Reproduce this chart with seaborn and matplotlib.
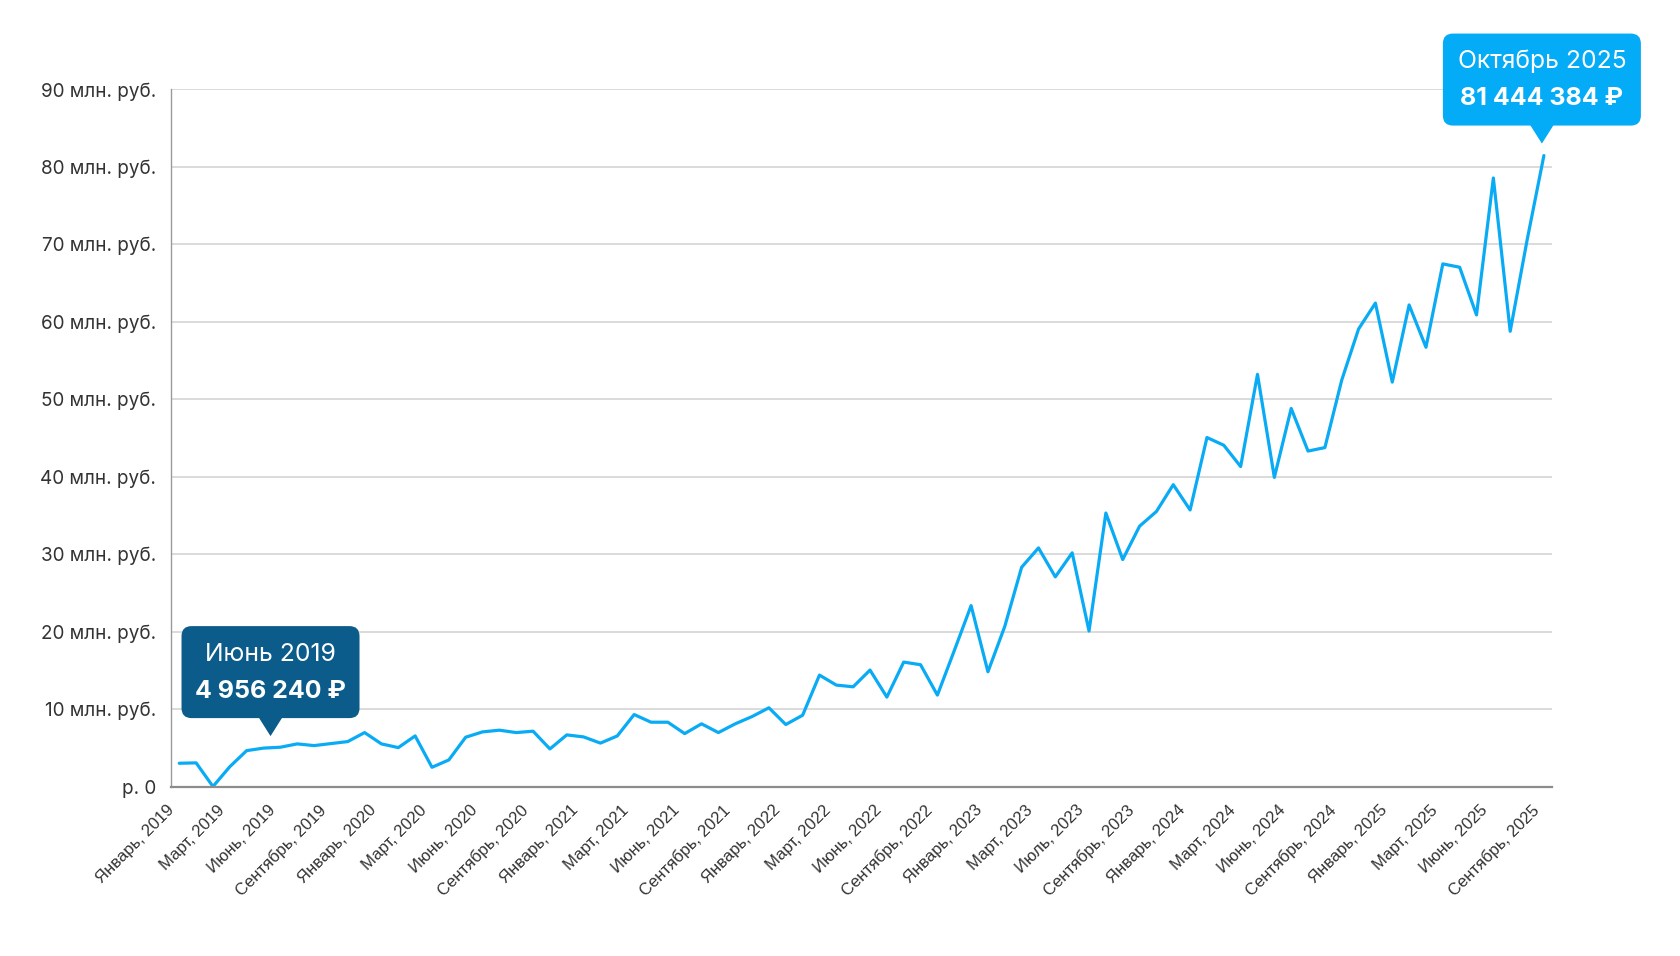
import matplotlib
matplotlib.use("Agg")
import matplotlib.pyplot as plt
import matplotlib.transforms as mtransforms
from matplotlib.patches import FancyBboxPatch, Polygon
from matplotlib.ticker import FuncFormatter
import seaborn as sns
import pandas as pd


# ── Data (млн. руб., помесячно с января 2019 по октябрь 2025) ─────────────
values = [
    3.00, 3.05, 0.00, 2.56, 4.63, 4.95624, 5.07, 5.50, 5.28, 5.54, 5.80, 6.96,
    5.50, 5.02, 6.53, 2.48, 3.43, 6.36, 7.05, 7.27, 6.96, 7.14, 4.85, 6.66,
    6.40, 5.60, 6.53, 9.29, 8.30, 8.30, 6.83, 8.09, 6.96, 8.09, 9.03, 10.16,
    8.00, 9.20, 14.38, 13.09, 12.87, 15.03, 11.54, 16.06, 15.72, 11.80, 17.53, 23.35,
    14.81, 20.67, 28.30, 30.80, 27.06, 30.16, 20.07, 35.30, 29.30, 33.60, 35.50, 38.96,
    35.70, 45.05, 44.05, 41.30, 53.20, 39.90, 48.80, 43.30, 43.75, 52.46, 59.06, 62.40,
    52.20, 62.16, 56.70, 67.46, 67.03, 60.87, 78.55, 58.76, 70.50, 81.444384,
]
month_index = list(range(len(values)))

tick_labels = [
    "Январь, 2019", "Март, 2019", "Июнь, 2019", "Сентябрь, 2019",
    "Январь, 2020", "Март, 2020", "Июнь, 2020", "Сентябрь, 2020",
    "Январь, 2021", "Март, 2021", "Июнь, 2021", "Сентябрь, 2021",
    "Январь, 2022", "Март, 2022", "Июнь, 2022", "Сентябрь, 2022",
    "Январь, 2023", "Март, 2023", "Июль, 2023", "Сентябрь, 2023",
    "Январь, 2024", "Март, 2024", "Июнь, 2024", "Сентябрь, 2024",
    "Январь, 2025", "Март, 2025", "Июнь, 2025", "Сентябрь, 2025",
]
tick_step = 3

# tooltips: index, title, amount in rubles
highlight_index = [5, 81]
highlight_title = ["Июнь 2019", "Октябрь 2025"]
highlight_amount = [4956240, 81444384]

LINE = "#0AABF5"
TIP_COLORS = ["#0B5C8B", "#04ABF6"]
TIP_WIDTHS = [178, 198]
TIP_SHIFT = [7, -2]

df = pd.DataFrame({"month": month_index, "value": values})

# ── Figure ────────────────────────────────────────────────────────────────
sns.set_style("white")
plt.rcParams["font.family"] = ["Inter", "DejaVu Sans"]

fig = plt.figure(figsize=(16.8, 9.56), dpi=100)
fig.patch.set_facecolor("white")
ax = fig.add_axes([0.102, 0.1773, 0.822, 0.7293])

sns.lineplot(data=df, x="month", y="value", ax=ax, color=LINE, linewidth=2.3)

ax.set_xlim(-0.47, 81.5)
ax.set_ylim(0, 90)
ax.set_yticks(range(0, 91, 10))
ax.yaxis.set_major_formatter(
    FuncFormatter(lambda v, _: "р. 0" if v == 0 else f"{v:.0f} млн. руб.")
)
ax.grid(axis="y", color="#D4D4D4", linewidth=1.2)
ax.set_axisbelow(True)
ax.set_xlabel("")
ax.set_ylabel("")

# x labels: every third month, drawn as rotated annotations under the axis
ax.set_xticks(month_index[::tick_step])
ax.set_xticklabels([])
for k, lab in zip(month_index[::tick_step], tick_labels):
    ax.annotate(lab, xy=(k, 0), xycoords=("data", "axes fraction"),
                xytext=(-13, -16), textcoords="offset pixels",
                rotation=45, rotation_mode="anchor", ha="right", va="top",
                family=["Liberation Sans", "DejaVu Sans"], fontsize=12,
                color="#333333", annotation_clip=False)

ax.tick_params(axis="y", length=0, pad=11, labelsize=13.6, labelcolor="#333333")
ax.tick_params(axis="x", length=0, pad=0)

for side in ["top", "right"]:
    ax.spines[side].set_visible(False)
ax.spines["left"].set_color("#9A9A9A")
ax.spines["left"].set_linewidth(1.0)
ax.spines["bottom"].set_color("#8C8C8C")
ax.spines["bottom"].set_linewidth(1.6)


# ── Tooltips ──────────────────────────────────────────────────────────────
def draw_tooltip(k, v, title, amount, color, width, dx, height=92):
    px, py = ax.transData.transform((k, v))
    cx = px + dx
    ident = mtransforms.IdentityTransform()
    tip_y = py + 12
    caret_h = 18
    bottom = tip_y + caret_h
    box = FancyBboxPatch((cx - width / 2, bottom), width, height,
                         boxstyle="round,pad=0,rounding_size=10",
                         facecolor=color, edgecolor="none", transform=ident)
    caret = Polygon([(cx - 12, bottom + 1), (cx + 12, bottom + 1), (cx, tip_y)],
                    closed=True, facecolor=color, edgecolor="none", transform=ident)
    fig.add_artist(box)
    fig.add_artist(caret)
    top = bottom + height
    fig.text(cx, top - 28, title, transform=ident, ha="center", va="center",
             color="white", fontsize=17.8)
    amount_text = f"{amount:,}".replace(",", " ") + " ₽"
    fig.text(cx, top - 65, amount_text, transform=ident, ha="center", va="center",
             color="white", fontsize=18, fontweight="bold")


for i, k in enumerate(highlight_index):
    draw_tooltip(k, values[k], highlight_title[i], highlight_amount[i],
                 TIP_COLORS[i], TIP_WIDTHS[i], TIP_SHIFT[i])

fig.savefig("out.png", dpi=100)
